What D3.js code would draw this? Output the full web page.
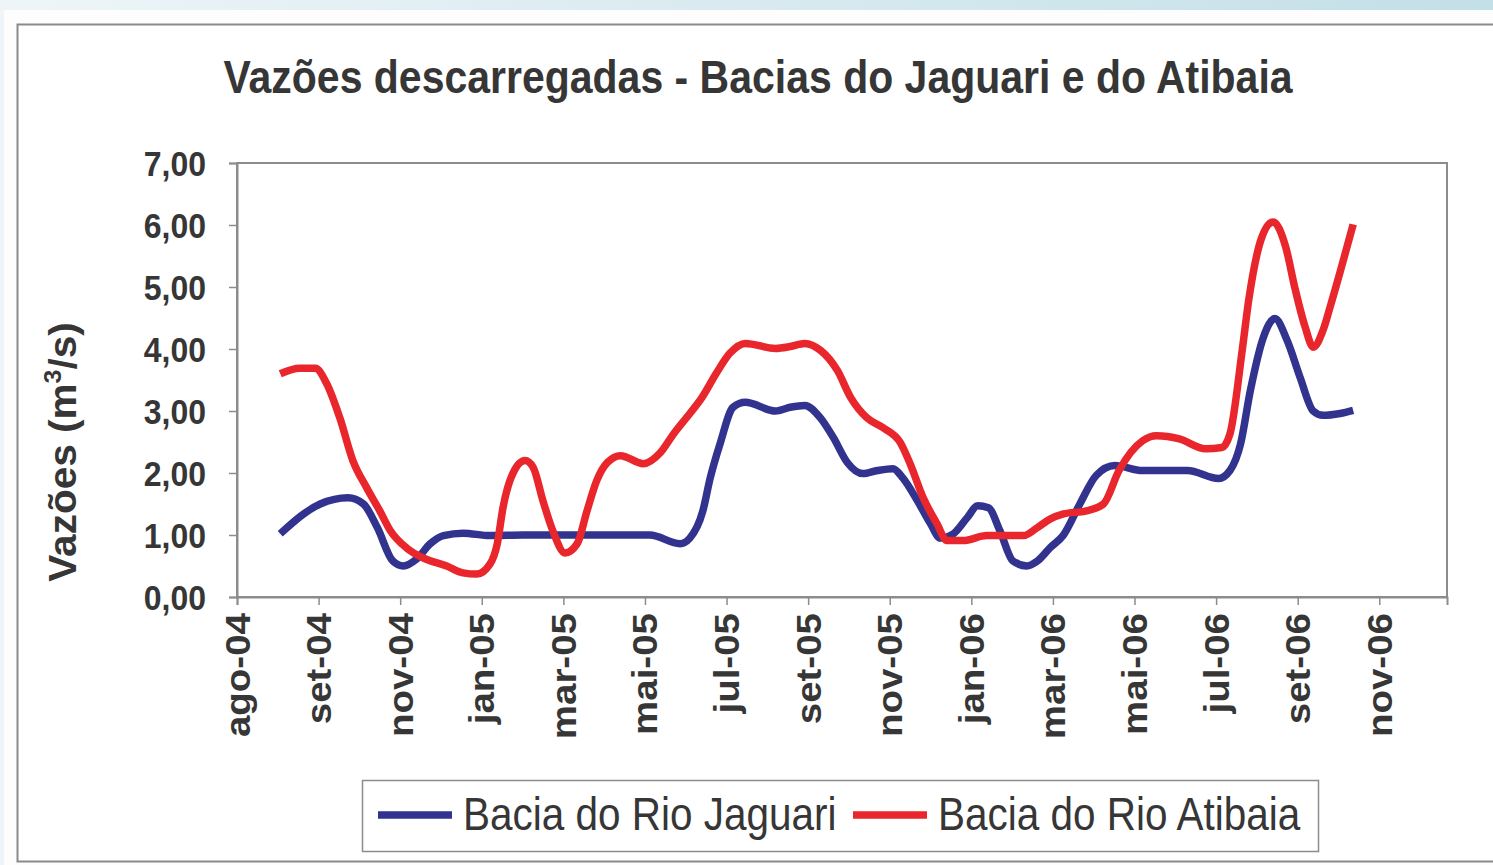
<!DOCTYPE html>
<html>
<head>
<meta charset="utf-8">
<script src="https://cdn.jsdelivr.net/npm/d3@7"></script>
<style>
  body { margin: 0; background: #fff; }
  svg { display: block; }
  text { font-family: "Liberation Sans", Arial, sans-serif; fill: #363636; }
</style>
</head>
<body>
<svg id="chart" width="1493" height="865"></svg>
<script>
// ----------------------------
// Data (x = position along the date axis, in tick steps from ago-04)
// ----------------------------
const tickLabels = ["ago-04","set-04","nov-04","jan-05","mar-05","mai-05","jul-05",
  "set-05","nov-05","jan-06","mar-06","mai-06","jul-06","set-06","nov-06"];
const yTicks = [0, 1, 2, 3, 4, 5, 6, 7];

const jaguariPos = [0.53, 1.02, 1.36, 1.55, 1.72, 1.91, 2.04, 2.2, 2.37, 2.53, 2.77, 3.1, 3.5, 4.0, 4.5,
  5.06, 5.43, 5.55, 5.71, 5.8, 5.92, 6.08, 6.23, 6.6, 6.78, 6.96, 7.15, 7.31, 7.48, 7.67, 7.85,
  8.04, 8.16, 8.34, 8.5, 8.62, 8.78, 8.95, 9.08, 9.21, 9.35, 9.51, 9.68, 9.81, 9.97, 10.13, 10.33,
  10.53, 10.76, 11.1, 11.65, 12.03, 12.17, 12.3, 12.42, 12.58, 12.72, 12.87, 13.03, 13.19, 13.31,
  13.52, 13.68];
const jaguariVals = [1.02, 1.50, 1.60, 1.50, 1.12, 0.58, 0.50, 0.61, 0.86, 0.99, 1.03, 0.99, 1.0, 1.0, 1.0,
  1.0, 0.86, 0.95, 1.39, 1.92, 2.47, 3.06, 3.14, 3.0, 3.06, 3.09, 2.89, 2.57, 2.17, 1.99, 2.04,
  2.07, 1.92, 1.55, 1.18, 0.95, 1.02, 1.28, 1.47, 1.44, 1.07, 0.58, 0.50, 0.58, 0.80, 1.0, 1.50,
  1.96, 2.12, 2.04, 2.04, 1.91, 2.04, 2.47, 3.33, 4.19, 4.49, 4.14, 3.54, 3.0, 2.93,
  2.96, 3.01];

const atibaiaPos = [0.53, 0.77, 0.96, 1.1, 1.26, 1.42, 1.59, 1.75, 1.88, 2.08, 2.28, 2.57, 2.77, 2.94,
  3.1, 3.19, 3.26, 3.38, 3.53, 3.63, 3.75, 3.87, 4.02, 4.17, 4.29, 4.41, 4.54, 4.7, 4.98, 5.19,
  5.35, 5.55, 5.7, 5.88, 6.04, 6.23, 6.6, 6.78, 6.96, 7.15, 7.36, 7.52, 7.72, 7.92, 8.13, 8.25,
  8.41, 8.58, 8.7, 8.9, 9.19, 9.64, 9.81, 9.97, 10.13, 10.41, 10.62, 10.81, 11.1, 11.27, 11.55,
  11.87, 12.07, 12.17, 12.32, 12.4, 12.56, 12.7, 12.85, 12.97, 13.09, 13.19, 13.31, 13.4, 13.53,
  13.68];
const atibaiaVals = [3.60, 3.69, 3.69, 3.44, 2.89, 2.2, 1.76, 1.39, 1.07, 0.79, 0.63, 0.50, 0.39, 0.37,
  0.53, 0.86, 1.44, 1.99, 2.2, 2.09, 1.55, 1.07, 0.71, 0.86, 1.39, 1.88, 2.17, 2.28, 2.15, 2.33,
  2.63, 2.96, 3.22, 3.62, 3.93, 4.09, 4.01, 4.04, 4.09, 3.98, 3.65, 3.22, 2.89, 2.73, 2.49, 2.15,
  1.6, 1.18, 0.91, 0.91, 0.99, 0.99, 1.12, 1.26, 1.34, 1.39, 1.50, 2.04, 2.52, 2.6, 2.55,
  2.39, 2.41, 2.63, 3.98, 4.79, 5.80, 6.05, 5.66, 4.96, 4.36, 4.03, 4.30, 4.69, 5.29,
  6.01];

const seriesNames = ["Bacia do Rio Jaguari", "Bacia do Rio Atibaia"];
const seriesColors = ["#31338f", "#e8262b"];

// ----------------------------
// Frame and background
// ----------------------------
const svg = d3.select("#chart");
const W = 1493, H = 865;

const grad = svg.append("defs").append("linearGradient")
  .attr("id", "bg").attr("x1", 0).attr("x2", 1).attr("y1", 0).attr("y2", 0);
grad.append("stop").attr("offset", 0).attr("stop-color", "#eef5f8");
grad.append("stop").attr("offset", 1).attr("stop-color", "#c3dfe8");

svg.append("rect").attr("width", W).attr("height", H).attr("fill", "url(#bg)");
svg.append("rect").attr("x", 4).attr("y", 10).attr("width", W).attr("height", H)
  .attr("fill", "#fdfdfd");
svg.append("rect").attr("x", 17.5).attr("y", 24.5).attr("width", W).attr("height", 837)
  .attr("fill", "#fff").attr("stroke", "#8a8a8a").attr("stroke-width", 2);

// ----------------------------
// Plot area
// ----------------------------
const plot = { left: 237, right: 1447, top: 163, bottom: 597 };

const xScale = d3.scaleLinear().domain([0, 14.83]).range([plot.left, plot.right]);
const yScale = d3.scaleLinear().domain([0, 7]).range([plot.bottom, plot.top]);

svg.append("rect")
  .attr("x", plot.left).attr("y", plot.top)
  .attr("width", plot.right - plot.left).attr("height", plot.bottom - plot.top)
  .attr("fill", "#fff").attr("stroke", "#8c8c8c").attr("stroke-width", 2);

// axes
const yAxis = svg.append("g")
  .attr("transform", `translate(${plot.left},0)`)
  .call(d3.axisLeft(yScale).tickValues(yTicks).tickSize(8).tickPadding(0)
    .tickFormat(d => d3.format(".2f")(d).replace(".", ",")));
yAxis.select(".domain").attr("stroke", "#8c8c8c").attr("stroke-width", 2);
yAxis.selectAll(".tick line").attr("stroke", "#8c8c8c").attr("stroke-width", 1.5);
yAxis.selectAll(".tick text")
  .attr("x", null).attr("dy", null)
  .attr("transform", "translate(-31,12) scale(1,1.08)")
  .attr("font-size", 32).attr("font-weight", "bold").attr("fill", "#363636");

const xAxis = svg.append("g")
  .attr("transform", `translate(0,${plot.bottom})`)
  .call(d3.axisBottom(xScale).tickValues(d3.range(tickLabels.length)).tickSize(8)
    .tickFormat(i => tickLabels[i]));
xAxis.select(".domain").attr("stroke", "#8c8c8c").attr("stroke-width", 2);
xAxis.selectAll(".tick line").attr("stroke", "#8c8c8c").attr("stroke-width", 1.5);
xAxis.selectAll(".tick text")
  .attr("y", null).attr("dy", null)
  .attr("text-anchor", "end")
  .attr("transform", "translate(12,16) rotate(-90) scale(1.1,1)")
  .attr("font-size", 35).attr("font-weight", "bold").attr("fill", "#363636");

// ----------------------------
// Lines
// ----------------------------
const line = d3.line()
  .x(d => xScale(d[0]))
  .y(d => yScale(d[1]))
  .curve(d3.curveMonotoneX);

const seriesData = [
  d3.zip(jaguariPos, jaguariVals),
  d3.zip(atibaiaPos, atibaiaVals)
];

seriesData.forEach((pts, i) => {
  svg.append("path")
    .datum(pts)
    .attr("fill", "none")
    .attr("stroke", seriesColors[i])
    .attr("stroke-width", 7.5)
    .attr("stroke-linejoin", "round")
    .attr("d", line);
});

// ----------------------------
// Titles
// ----------------------------
svg.append("text")
  .attr("transform", "translate(758,93) scale(1,1.12)")
  .attr("text-anchor", "middle")
  .attr("font-size", 41).attr("font-weight", "bold")
  .text("Vazões descarregadas - Bacias do Jaguari e do Atibaia");

const yTitle = svg.append("text")
  .attr("transform", "translate(76,452) rotate(-90) scale(1.04,1)")
  .attr("text-anchor", "middle")
  .attr("font-size", 39).attr("font-weight", "bold");
yTitle.append("tspan").text("Vazões (m");
yTitle.append("tspan").attr("font-size", 24).attr("dy", -15).text("3");
yTitle.append("tspan").attr("dy", 15).text("/s)");

// ----------------------------
// Legend
// ----------------------------
const legend = svg.append("g");
legend.append("rect")
  .attr("x", 362.5).attr("y", 780.5).attr("width", 956).attr("height", 71)
  .attr("fill", "#fff").attr("stroke", "#8c8c8c").attr("stroke-width", 1.5);

const legendX = [378, 853];
seriesNames.forEach((name, i) => {
  legend.append("line")
    .attr("x1", legendX[i]).attr("x2", legendX[i] + 74)
    .attr("y1", 815).attr("y2", 815)
    .attr("stroke", seriesColors[i]).attr("stroke-width", 7.5);
  legend.append("text")
    .attr("transform", `translate(${legendX[i] + 85},830) scale(1,1.12)`)
    .attr("font-size", 40.5)
    .text(name);
});
</script>
</body>
</html>
